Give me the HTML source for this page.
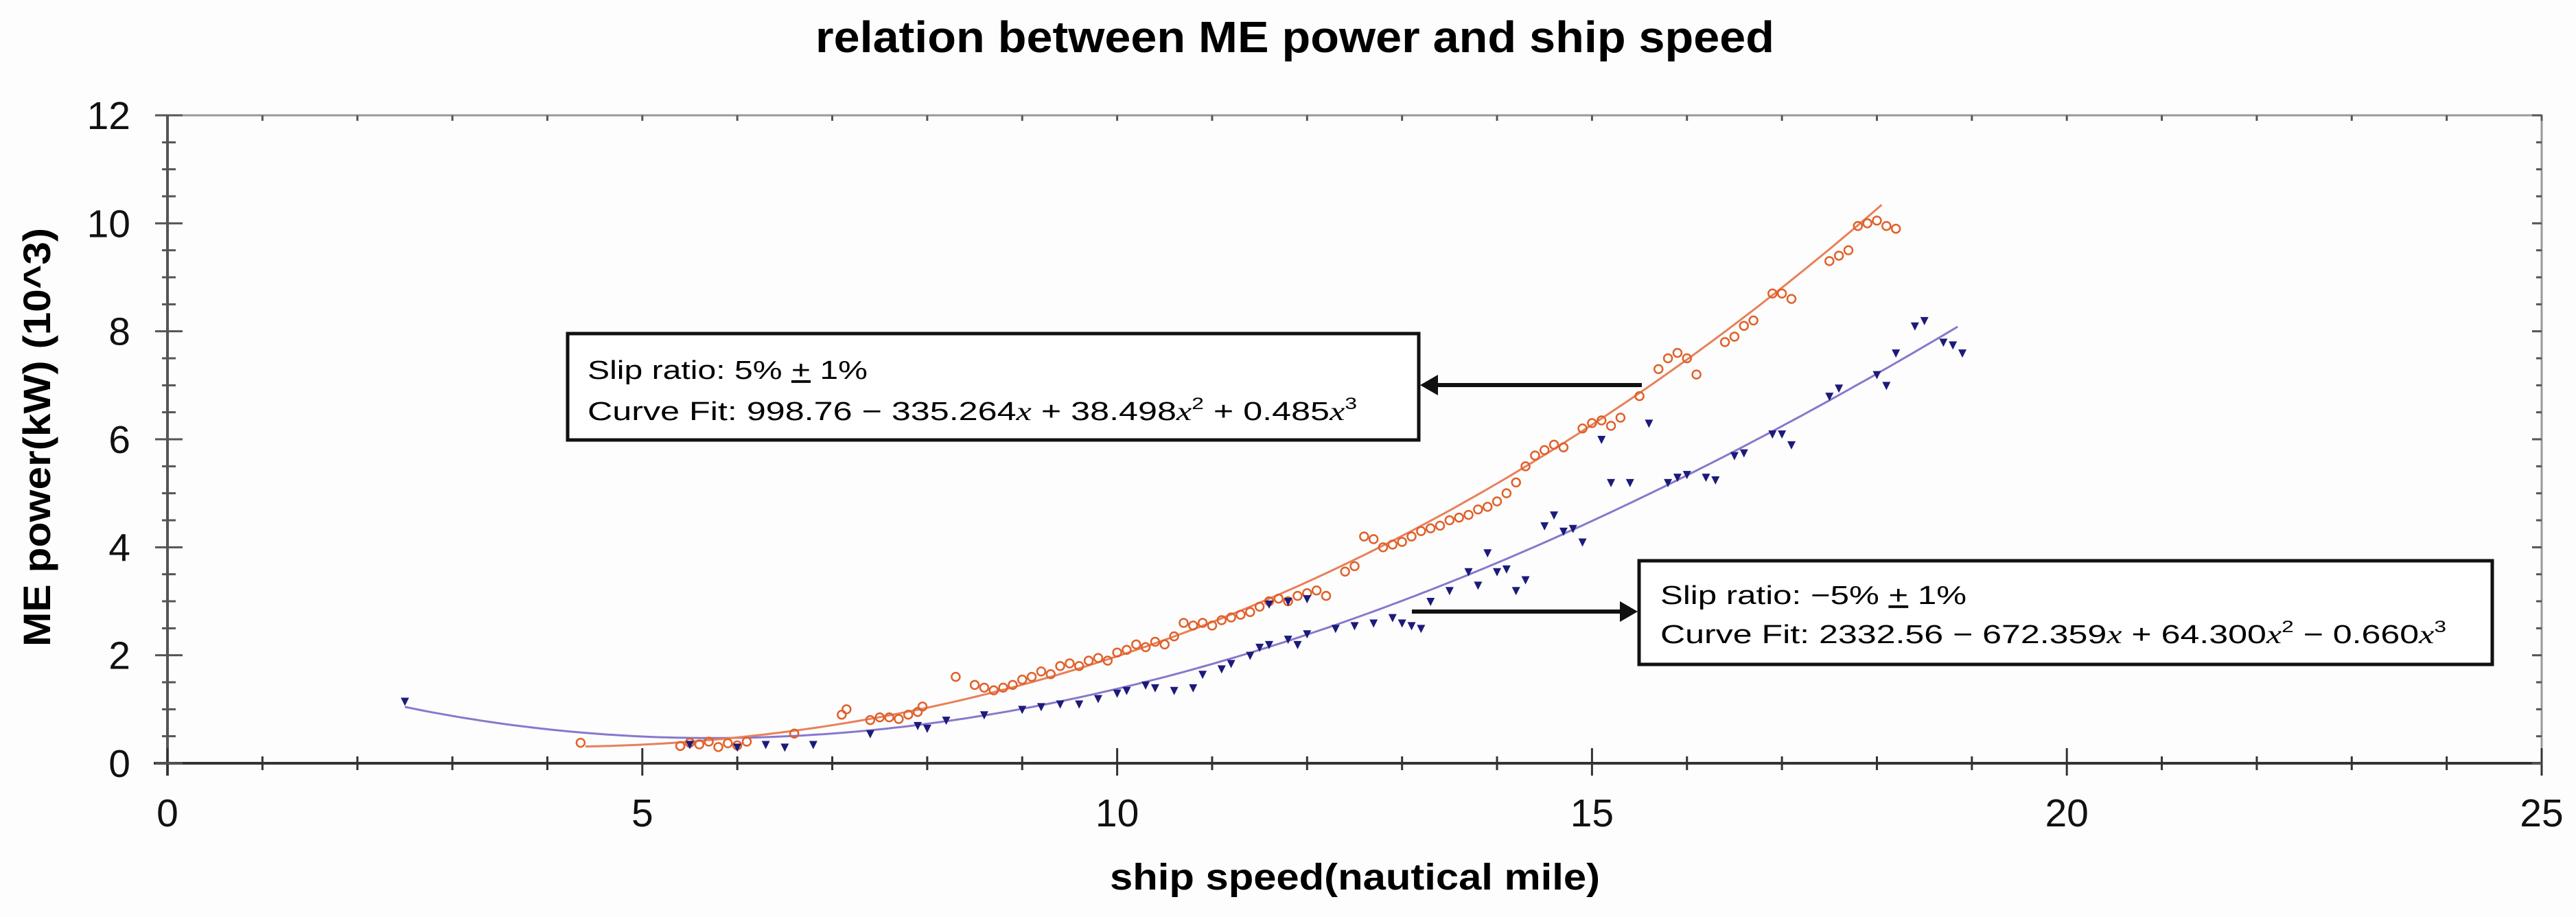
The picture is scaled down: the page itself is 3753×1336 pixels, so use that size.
<!DOCTYPE html>
<html><head><meta charset="utf-8"><style>
html,body{margin:0;padding:0;background:#fff;}
svg{display:block;}
text{font-family:"Liberation Sans",sans-serif;}
</style></head><body>
<svg id="chart" width="3753" height="1336" viewBox="0 0 3753 1336" xmlns="http://www.w3.org/2000/svg">
<rect x="0" y="0" width="3753" height="1336" fill="#fdfdfd"/>
<text x="1188" y="76" font-size="64" font-weight="bold" textLength="1397" lengthAdjust="spacingAndGlyphs">relation between ME power and ship speed</text>
<text x="1617" y="1296" font-size="54" font-weight="bold" textLength="714" lengthAdjust="spacingAndGlyphs">ship speed(nautical mile)</text>
<text transform="translate(73,942) rotate(-90)" font-size="56" font-weight="bold" textLength="610" lengthAdjust="spacingAndGlyphs">ME power(kW) (10^3)</text>
<g id="axes"></g>
<g id="curves"></g>
<g id="points"></g>
<g>
<rect x="827" y="486" width="1240" height="155" fill="#fff" stroke="#111" stroke-width="5"/>
<text x="856" y="552" font-size="38" textLength="408" lengthAdjust="spacingAndGlyphs">Slip ratio: 5% <tspan text-decoration="underline">+</tspan> 1%</text>
<text x="856" y="612" font-size="38" textLength="1121" lengthAdjust="spacingAndGlyphs">Curve Fit: 998.76 − 335.264<tspan font-family="Liberation Serif" font-style="italic">x</tspan> + 38.498<tspan font-family="Liberation Serif" font-style="italic">x</tspan><tspan font-size="24" dy="-16">2</tspan><tspan dy="16"> + 0.485</tspan><tspan font-family="Liberation Serif" font-style="italic">x</tspan><tspan font-size="24" dy="-16">3</tspan></text>
</g>
<g>
<rect x="2388" y="817" width="1243" height="151" fill="#fff" stroke="#111" stroke-width="5"/>
<text x="2419" y="880" font-size="38" textLength="446" lengthAdjust="spacingAndGlyphs">Slip ratio: −5% <tspan text-decoration="underline">+</tspan> 1%</text>
<text x="2419" y="937" font-size="38" textLength="1145" lengthAdjust="spacingAndGlyphs">Curve Fit: 2332.56 − 672.359<tspan font-family="Liberation Serif" font-style="italic">x</tspan> + 64.300<tspan font-family="Liberation Serif" font-style="italic">x</tspan><tspan font-size="24" dy="-16">2</tspan><tspan dy="16"> − 0.660</tspan><tspan font-family="Liberation Serif" font-style="italic">x</tspan><tspan font-size="24" dy="-16">3</tspan></text>
</g>
<g>
<line x1="2392" y1="561" x2="2090" y2="561" stroke="#111" stroke-width="6"/>
<polygon points="2069,561 2095,546 2095,576" fill="#111"/>
</g>
<g>
<line x1="2057" y1="891" x2="2365" y2="891" stroke="#111" stroke-width="6"/>
<polygon points="2386,891 2360,876 2360,906" fill="#111"/>
</g>
</svg>
<script>
const xTicks = [0,5,10,15,20,25];
const yTicks = [0,2,4,6,8,10,12];
const posCoef = [998.76,-335.264,38.498,0.485];
const negCoef = [2332.56,-672.359,64.300,-0.660];
const posRange = [4.4,18.05];
const negRange = [2.5,18.85];
const posX = [4.35,5.4,5.5,5.6,5.7,5.8,5.9,6.0,6.1,6.6,7.1,7.15,7.4,7.5,7.6,7.7,7.8,7.9,7.95,8.3,8.5,8.6,8.7,8.8,8.9,9.0,9.1,9.2,9.3,9.4,9.5,9.6,9.7,9.8,9.9,10.0,10.1,10.2,10.3,10.4,10.5,10.6,10.7,10.8,10.9,11.0,11.1,11.2,11.3,11.4,11.5,11.6,11.7,11.8,11.9,12.0,12.1,12.2,12.4,12.5,12.6,12.7,12.8,12.9,13.0,13.1,13.2,13.3,13.4,13.5,13.6,13.7,13.8,13.9,14.0,14.1,14.2,14.3,14.4,14.5,14.6,14.7,14.9,15.0,15.1,15.2,15.3,15.5,15.7,15.8,15.9,16.0,16.1,16.4,16.5,16.6,16.7,16.9,17.0,17.1,17.5,17.6,17.7,17.8,17.9,18.0,18.1,18.2];
const posY = [0.38,0.32,0.38,0.35,0.4,0.3,0.37,0.33,0.4,0.55,0.9,1.0,0.8,0.85,0.85,0.82,0.9,0.95,1.05,1.6,1.45,1.4,1.35,1.4,1.45,1.55,1.6,1.7,1.65,1.8,1.85,1.8,1.9,1.95,1.9,2.05,2.1,2.2,2.15,2.25,2.2,2.35,2.6,2.55,2.6,2.55,2.65,2.7,2.75,2.8,2.9,3.0,3.05,3.0,3.1,3.15,3.2,3.1,3.55,3.65,4.2,4.15,4.0,4.05,4.1,4.2,4.3,4.35,4.4,4.5,4.55,4.6,4.7,4.75,4.85,5.0,5.2,5.5,5.7,5.8,5.9,5.85,6.2,6.3,6.35,6.25,6.4,6.8,7.3,7.5,7.6,7.5,7.2,7.8,7.9,8.1,8.2,8.7,8.7,8.6,9.3,9.4,9.5,9.95,10.0,10.05,9.95,9.9];
const negX = [2.5,5.5,6.0,6.3,6.5,6.8,7.4,7.9,8.0,8.2,8.6,9.0,9.2,9.4,9.6,9.8,10.0,10.1,10.3,10.4,10.6,10.8,10.9,11.1,11.2,11.4,11.5,11.6,11.8,11.9,12.0,11.6,11.8,12.0,12.3,12.5,12.7,12.9,13.0,13.1,13.2,13.3,13.5,13.7,13.8,13.9,14.0,14.1,14.2,14.3,14.5,14.6,14.7,14.8,14.9,15.2,15.4,15.1,15.6,15.8,15.9,16.0,16.2,16.3,16.5,16.6,16.9,17.0,17.1,17.5,17.6,18.0,18.1,18.2,18.4,18.5,18.7,18.8,18.9];
const negY = [1.15,0.35,0.3,0.35,0.3,0.35,0.55,0.7,0.65,0.8,0.9,1.0,1.05,1.1,1.1,1.2,1.3,1.35,1.45,1.4,1.35,1.4,1.65,1.75,1.85,2.0,2.15,2.2,2.3,2.2,2.4,2.95,3.0,3.05,2.5,2.55,2.6,2.7,2.6,2.55,2.5,3.0,3.2,3.55,3.3,3.9,3.55,3.6,3.2,3.4,4.4,4.6,4.3,4.35,4.1,5.2,5.2,6.0,6.3,5.2,5.3,5.35,5.3,5.25,5.7,5.75,6.1,6.1,5.9,6.8,6.95,7.2,7.0,7.6,8.1,8.2,7.8,7.75,7.6];

const NS='http://www.w3.org/2000/svg';
const X0=244,X1=3703,Y0=1112,Y1=168;
const xs=v=>X0+(v/25)*(X1-X0);
const ys=v=>Y0-(v/12)*(Y0-Y1);
function mk(tag,parent,attrs){const e=document.createElementNS(NS,tag);for(const k in attrs)e.setAttribute(k,attrs[k]);parent.appendChild(e);return e;}
const axes=document.getElementById('axes');
// frame
const frame=mk('rect',axes,{x:X0,y:Y1,width:X1-X0,height:Y0-Y1,fill:'none',stroke:'#999','stroke-width':3});


const xl=mk('line',axes,{x1:X0-20,y1:Y0,x2:X1,y2:Y0,stroke:'#333','stroke-width':4});


const yl=mk('line',axes,{x1:X0,y1:Y1,x2:X0,y2:Y0+18,stroke:'#555','stroke-width':4});


// x minor/major ticks
for(let v=0;v<=25;v++){
  const major=v%5===0;
  const t=mk('line',axes,{x1:xs(v),x2:xs(v),y1:major?Y0-22:Y0-10,y2:major?Y0+18:Y0+10,stroke:'#333','stroke-width':3});
  
  
  const tt=mk('line',axes,{x1:xs(v),x2:xs(v),y1:Y1,y2:Y1+8,stroke:'#555','stroke-width':3});
  
  
}
for(let i=0;i<=24;i++){
  const v=i*0.5;const major=i%4===0;
  const t=mk('line',axes,{y1:ys(v),y2:ys(v),x1:major?X0-18:X0-8,x2:major?X0+22:X0+12,stroke:'#555','stroke-width':3});
  
  
  const r=mk('line',axes,{y1:ys(v),y2:ys(v),x1:X1-(major?14:8),x2:X1,stroke:'#555','stroke-width':3});
  
  
}
xTicks.forEach(v=>{
  const t=mk('text',axes,{x:xs(v),y:1204,'font-size':57,'text-anchor':'middle',fill:'#111'});
  t.textContent=String(v);
  
  
});
yTicks.forEach(v=>{
  const t=mk('text',axes,{x:190,y:ys(v)+20,'font-size':57,'text-anchor':'end',fill:'#111'});
  t.textContent=String(v);
  
  
});
// curves
function poly(c,x){return (c[0]+c[1]*x+c[2]*x*x+c[3]*x*x*x)/1000;}
const curves=document.getElementById('curves');
function drawCurve(c,range,color,name){
  let d='';const n=200;
  for(let i=0;i<=n;i++){const x=range[0]+(range[1]-range[0])*i/n;d+=(i?'L':'M')+xs(x).toFixed(1)+','+ys(poly(c,x)).toFixed(1);}
  const p=mk('path',curves,{d:d,fill:'none',stroke:color,'stroke-width':3});
  
  
}
drawCurve(negCoef,negRange,'#8878cc','fit-curve-negative-slip');
drawCurve(posCoef,posRange,'#e8805a','fit-curve-positive-slip');
// points
const pts=document.getElementById('points');
posX.forEach((x,i)=>{
  const c=mk('circle',pts,{cx:xs(x),cy:ys(posY[i]),r:6,fill:'none',stroke:'#e0602a','stroke-width':2.5});
  
  
});
negX.forEach((x,i)=>{
  const cx=xs(x),cy=ys(negY[i]);
  const t=mk('polygon',pts,{points:(cx-6)+','+(cy-5)+' '+(cx+6)+','+(cy-5)+' '+cx+','+(cy+7),fill:'#1c1a7a'});
  
  
});
</script>
</body></html>
